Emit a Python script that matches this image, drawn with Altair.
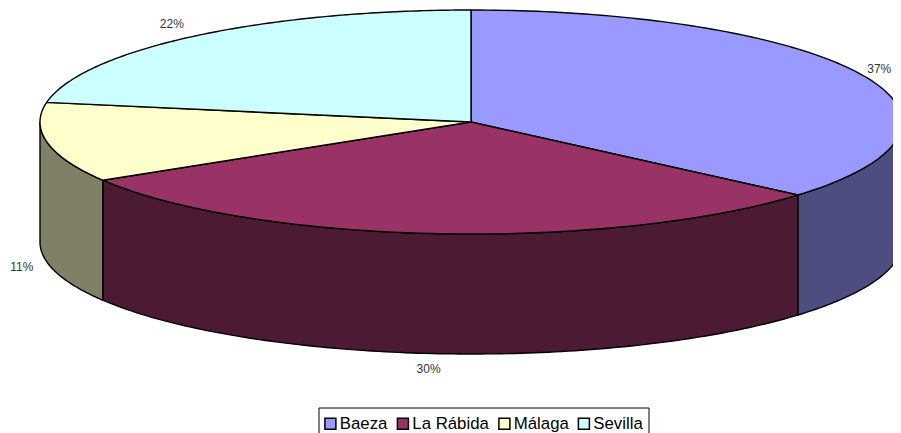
import numpy as np
import pandas as pd
import altair as alt

# Data
categories = ["Baeza", "La Rábida", "Málaga", "Sevilla"]
shares = [36.3, 30.0, 11.5, 22.2]
labels = ["37%", "30%", "11%", "22%"]
top_colors = ["#9999FF", "#993366", "#FFFFCC", "#CCFFFF"]
wall_colors = ["#4D4D80", "#4D1A33", "#808066", "#668080"]

# Projection of the tilted pie (page pixels)
CX, CY, RX, RY, DEPTH = 471, 122, 431, 112, 120
W, H = 885, 425
label_nudge_x = [-8, -5, 1, -5]
label_nudge_y = [0, -1, 1, 0]
legend_box = {"x": 319, "x2": 649, "y": 408, "y2": 445}


def px(t):
    return CX + RX * np.sin(t)


def py(t):
    return CY - RY * np.cos(t)


edges = np.radians(np.concatenate([[0], np.cumsum(shares)]) / np.sum(shares) * 360)

top_rows, wall_rows, label_rows = [], [], []
for i, cat in enumerate(categories):
    a, b = edges[i], edges[i + 1]
    ts = np.linspace(a, b, 120)
    pts = [(CX, CY)] + [(px(t), py(t)) for t in ts] + [(CX, CY)]
    for k, (x, y) in enumerate(pts):
        top_rows.append({"cat": cat, "x": x, "y": y, "o": k})
    lo, hi = max(a, np.pi / 2), min(b, 3 * np.pi / 2)
    if hi > lo:
        ws = np.linspace(lo, hi, 120)
        outline = [(px(t), py(t)) for t in ws] + [(px(t), py(t) + DEPTH) for t in ws[::-1]]
        outline.append(outline[0])
        for k, (x, y) in enumerate(outline):
            wall_rows.append({"cat": cat, "x": x, "y": y, "o": k})
    mid = (a + b) / 2
    wall = DEPTH if np.pi / 2 < mid < 3 * np.pi / 2 else 0
    label_rows.append({
        "label": labels[i],
        "x": px(mid) + 27 * np.sin(mid) + label_nudge_x[i],
        "y": py(mid) - 16 * np.cos(mid) + wall + label_nudge_y[i],
    })

x_scale = alt.Scale(domain=[8, 8 + W], range=[0, W], nice=False, zero=False)
y_scale = alt.Scale(domain=[8 + H, 8], range=[H, 0], nice=False, zero=False)
x_enc = alt.X("x:Q", scale=x_scale, axis=None)
y_enc = alt.Y("y:Q", scale=y_scale, axis=None)

box = alt.Chart(pd.DataFrame([legend_box])).mark_rect(
    fill="white", stroke="black", strokeWidth=1
).encode(x=x_enc, x2="x2:Q", y=y_enc, y2="y2:Q")

walls = alt.Chart(pd.DataFrame(wall_rows)).mark_line(
    filled=True, stroke="black", strokeWidth=1.4, strokeJoin="round"
).encode(
    x=x_enc, y=y_enc, order="o:Q",
    color=alt.Color("cat:N", scale=alt.Scale(domain=categories, range=wall_colors), legend=None),
)

tops = alt.Chart(pd.DataFrame(top_rows)).mark_line(
    filled=True, stroke="black", strokeWidth=1.4, strokeJoin="round"
).encode(
    x=x_enc, y=y_enc, order="o:Q",
    color=alt.Color(
        "cat:N",
        scale=alt.Scale(domain=categories, range=top_colors),
        legend=alt.Legend(
            title=None, orient="none", legendX=314, legendY=407, direction="horizontal",
            columns=4, columnPadding=5.5, symbolType="square", symbolSize=121,
            symbolStrokeColor="black", symbolStrokeWidth=1.5, labelFont="Liberation Sans",
            labelFontSize=16.8, labelColor="black", labelOffset=1,
            padding=0, symbolOpacity=1, labelLimit=200,
        ),
    ),
)

text = alt.Chart(pd.DataFrame(label_rows)).mark_text(
    font="Liberation Sans", fontSize=12, color="#333333", align="center", baseline="middle"
).encode(x=x_enc, y=y_enc, text="label:N")

chart = alt.layer(box, walls, tops, text).resolve_scale(color="independent").properties(
    width=W, height=H, padding=0, autosize=alt.AutoSizeParams(type="none"),
    background="white",
).configure_view(stroke=None)

chart.save("out.html", embed_options={"renderer": "svg", "actions": False})
